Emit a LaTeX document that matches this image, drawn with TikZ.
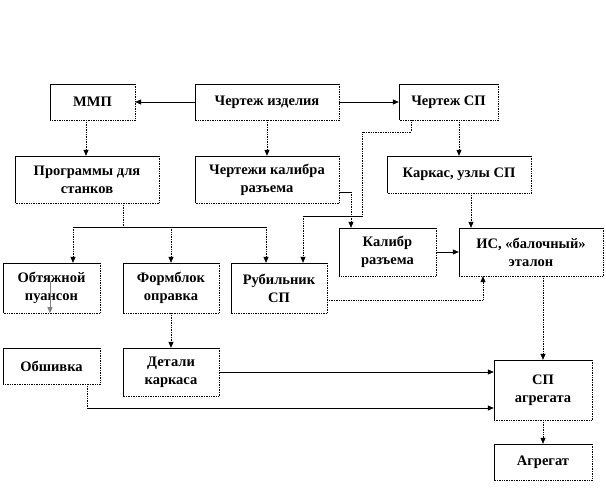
\documentclass[tikz,border=0pt]{standalone}
\usepackage{fontspec}
\setmainfont{Liberation Serif}
\usetikzlibrary{arrows.meta}
\begin{document}
\begin{tikzpicture}[x=1pt,y=-1pt,
  box/.style={draw=none,inner sep=0pt,align=center,font=\fontsize{14.5}{18}\selectfont\bfseries},
  tip/.style={-{Triangle[length=6pt,width=5pt]}},
  sline/.style={black,line width=0.7pt},
  dline/.style={black,line width=0.7pt,densely dotted}]
\useasboundingbox (0,0) rectangle (606,504);
\node[box,minimum width=85,minimum height=36] (mmp) at (92.5,102) {ММП};
\node[box,minimum width=144,minimum height=36] (ci) at (267,102) {Чертеж изделия};
\node[box,minimum width=99,minimum height=36] (csp) at (448.5,102) {Чертеж СП};
\node[box,minimum width=144,minimum height=47] (prog) at (87,179.5) {Программы для\\станков};
\node[box,minimum width=144,minimum height=47] (ckr) at (267,179.5) {Чертежи калибра\\разъема};
\node[box,minimum width=144,minimum height=37] (kark) at (459,174.5) {Каркас, узлы СП};
\node[box,minimum width=97,minimum height=50] (obt) at (51.5,288) {Обтяжной\\пуансон};
\node[box,minimum width=96,minimum height=50] (form) at (171,288) {Формблок\\оправка};
\node[box,minimum width=96,minimum height=50] (rub) at (279,288) {Рубильник\\СП};
\node[box,minimum width=97,minimum height=48] (kal) at (387.5,252) {Калибр\\разъема};
\node[box,minimum width=144,minimum height=48] (is) at (531,252) {ИС, «балочный»\\эталон};
\node[box,minimum width=97,minimum height=36] (obsh) at (51.5,366) {Обшивка};
\node[box,minimum width=96,minimum height=48] (det) at (171,372) {Детали\\каркаса};
\node[box,minimum width=98,minimum height=60] (spa) at (543,390) {СП\\агрегата};
\node[box,minimum width=98,minimum height=36] (agr) at (543,462) {Агрегат};
\foreach \n in {mmp,ci,csp,prog,ckr,kark,obt,form,rub,kal,is,obsh,det,spa,agr}{
  \draw[sline,line width=0.6pt] (\n.south west) -- (\n.north west) -- (\n.north east);
  \draw[dline,line width=0.8pt] (\n.north east) -- (\n.south east) -- (\n.south west);
}
% connectors
\draw[sline,tip] (ci.west) -- (mmp.east);
\draw[sline,tip] (ci.east) -- (csp.east -| csp.west);
\draw[dline,tip] (mmp.south -| 86,0) -- (prog.north -| 86,0);
\draw[dline,tip] (ci.south) -- (ckr.north);
\draw[dline,tip] (csp.south -| 459,0) -- (kark.north);
\coordinate (c1) at (411,132);
\coordinate (c2) at (362,132);
\coordinate (c3) at (362,216);
\coordinate (c4) at (303,216);
\draw[dline] (csp.south -| c1) -- (c1) -- (c2) -- (c3);
\draw[sline] (c3) -- (c4);
\draw[dline,tip] (c4) -- (rub.north -| c4);
\coordinate (k1) at (351,192);
\draw[sline] (ckr.east |- k1) -- (k1);
\draw[dline,tip] (k1) -- (kal.north -| k1);
\draw[dline,tip] (kark.south -| 471,0) -- (is.north -| 471,0);
\draw[sline,tip] (kal.east) -- (is.west);
\coordinate (r1) at (483,300);
\draw[dline,tip] (rub.east |- r1) -- (r1) -- (is.south -| r1);
\draw[dline,tip] (is.south -| 543,0) -- (spa.north);
\coordinate (p1) at (123,227);
\coordinate (p2) at (73,227);
\coordinate (p3) at (266,227);
\draw[dline] (prog.south -| p1) -- (p1);
\draw[sline] (p2) -- (p3);
\draw[dline,tip] (p2) -- (obt.north -| p2);
\draw[dline,tip] (171,227) -- (form.north);
\draw[dline,tip] (p3) -- (rub.north -| p3);
\draw[gray,line width=1pt,tip] (50,282) -- (obt.south -| 50,0);
\draw[dline,tip] (form.south) -- (det.north);
\draw[sline,tip] (det.east |- 0,372) -- (spa.west |- 0,372);
\coordinate (o1) at (87,408);
\draw[dline] (obsh.south -| o1) -- (o1);
\draw[sline,tip] (o1) -- (spa.west |- o1);
\draw[dline,tip] (spa.south) -- (agr.north);
\end{tikzpicture}
\end{document}
